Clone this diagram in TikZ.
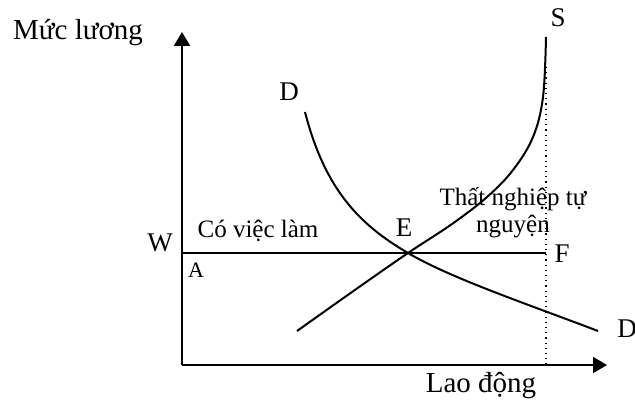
\documentclass[tikz,border=0pt]{standalone}
\usepackage{fontspec}
\setmainfont{Liberation Serif}
\usetikzlibrary{arrows.meta}

\begin{document}
\begin{tikzpicture}[x=0.5pt,y=-0.5pt,>={Triangle[length=7pt,width=8pt]},
  axislbl/.style={font=\fontsize{14.5}{16}\selectfont,inner sep=0pt,anchor=base},
  lbl/.style={font=\fontsize{12.5}{13.5}\selectfont,inner sep=0pt},
  pt/.style={font=\fontsize{13.5}{15}\selectfont,inner sep=0pt},
  curve/.style={line width=1pt}]
\useasboundingbox (0,0) rectangle (635,401);
\coordinate (O) at (182,365);
\coordinate (Ytop) at (182,32);
\coordinate (Xend) at (607,365);
\coordinate (Wpt) at (182,253);
\coordinate (Fpt) at (546,253);
\coordinate (Ftop) at (546,67);
\coordinate (Fbot) at (546,365);
\coordinate (E) at (408,253);
% axes
\draw[line width=1pt,->] (O)--(Ytop);
\draw[line width=1pt,->] (O)--(Xend);
\node[axislbl] (yl) at (78,40) {Mức lương};
\node[axislbl] (xl) at (481,392) {Lao động};
% wage line and labour force
\draw[line width=1pt] (Wpt)--(Fpt);
\draw[line width=0.6pt,dotted] (Ftop)--(Fbot);
% demand
\draw[curve] (305,112) .. controls (325,190) and (360,225) .. (E)
  .. controls (450,278) and (530,305) .. (598,331);
% supply
\draw[curve] plot[smooth,tension=0.6] coordinates
  {(297,331) (352,292) (408,253) (452,224) (487,197) (513,170) (533,137) (543,97) (546,37)};
% labels
\node[pt] (Dtop) at (289,92) {D};
\node[pt] (S) at (558,18) {S};
\node[pt] (W) at (160,243) {W};
\node[lbl,font=\fontsize{11}{12}\selectfont] (A) at (196,270) {A};
\node[pt] (El) at (404,228) {E};
\node[pt] (F) at (562,254) {F};
\node[pt] (Dbot) at (627,329) {D};
\node[lbl,anchor=base] (emp) at (258,237) {Có việc làm};
\node[lbl,anchor=base,align=center] (unemp) at (513,232) {Thất nghiệp tự\\nguyện};
\end{tikzpicture}
\end{document}
